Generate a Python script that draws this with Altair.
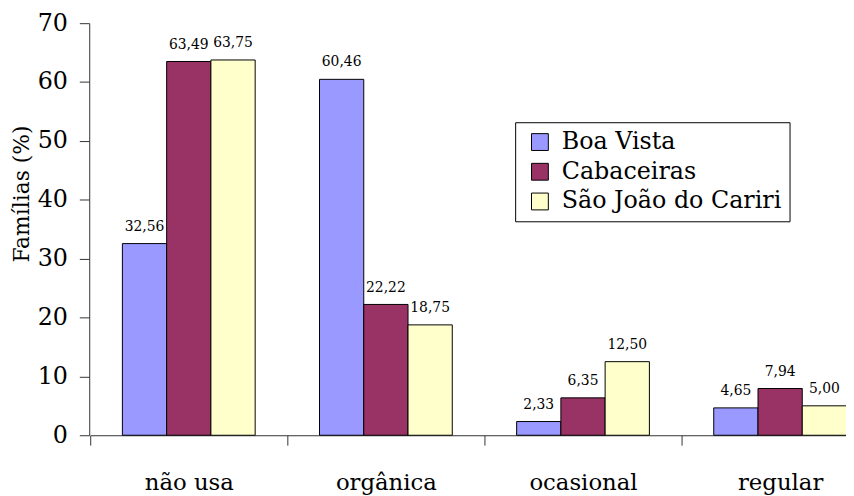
import altair as alt
import pandas as pd

categories = ["não usa", "orgânica", "ocasional", "regular"]
series = ["Boa Vista", "Cabaceiras", "São João do Cariri"]
boa_vista = [32.56, 60.46, 2.33, 4.65]
cabaceiras = [63.49, 22.22, 6.35, 7.94]
sao_joao = [63.75, 18.75, 12.50, 5.00]
colors = ["#9999FF", "#993366", "#FFFFCC"]

rows = []
for name, vals in zip(series, [boa_vista, cabaceiras, sao_joao]):
    for c, v in zip(categories, vals):
        rows.append({"cat": c, "serie": name, "valor": v,
                     "rotulo": f"{v:.2f}".replace(".", ",")})
df = pd.DataFrame(rows)

FONT = "DejaVu Serif"

x = alt.X("cat:N", sort=categories, title=None,
          scale=alt.Scale(range=[1, 797], paddingInner=0, paddingOuter=0),
          axis=alt.Axis(labelAngle=0, labelFontSize=23, labelFont=FONT,
                        labelColor="black", tickBand="extent", tickSize=10,
                        tickColor="#333", domainColor="#333",
                        labelPadding=27))
xo = alt.XOffset("serie:N", sort=series,
                 scale=alt.Scale(paddingOuter=0.727, paddingInner=0))

base = alt.Chart(df)

bars = base.mark_bar(stroke="black", strokeWidth=1).encode(
    x=x, xOffset=xo,
    y=alt.Y("valor:Q", scale=alt.Scale(domain=[0, 70]),
            axis=alt.Axis(values=list(range(0, 71, 10)), tickSize=10,
                          labelFontSize=24, labelFont=FONT, labelColor="black",
                          labelPadding=12, grid=False, tickColor="#333",
                          domainColor="#333",
                          title="Famílias (%)", titleFontSize=22,
                          titleFont=FONT, titleFontWeight="normal",
                          titleColor="black", titleX=-68, titleY=172,
                          titleAlign="center", titleBaseline="middle")),
    color=alt.Color("serie:N", sort=series,
                    scale=alt.Scale(domain=series, range=colors),
                    legend=alt.Legend(title=None, orient="none",
                                      legendX=430, legendY=100,
                                      symbolType="square", symbolSize=289,
                                      symbolStrokeColor="black",
                                      symbolStrokeWidth=1, symbolOffset=5,
                                      labelFontSize=24, labelFont=FONT,
                                      labelColor="black", rowPadding=6,
                                      labelLimit=0,
                                      padding=8, strokeColor="black",
                                      fillColor="white", labelOffset=10)),
)

labels = base.mark_text(baseline="alphabetic", dy=-13, fontSize=14,
                        font=FONT, color="black").encode(
    x=x, xOffset=xo, y="valor:Q", text="rotulo:N")

chart = (bars + labels).properties(
    width=764, height=416,
    autosize=alt.AutoSizeParams(type="none"),
    padding={"left": 82, "top": 13, "right": 0, "bottom": 59},
    background="white",
).configure(font=FONT).configure_view(stroke=None)

chart.save("out.html", embed_options={"renderer": "svg", "actions": False})
